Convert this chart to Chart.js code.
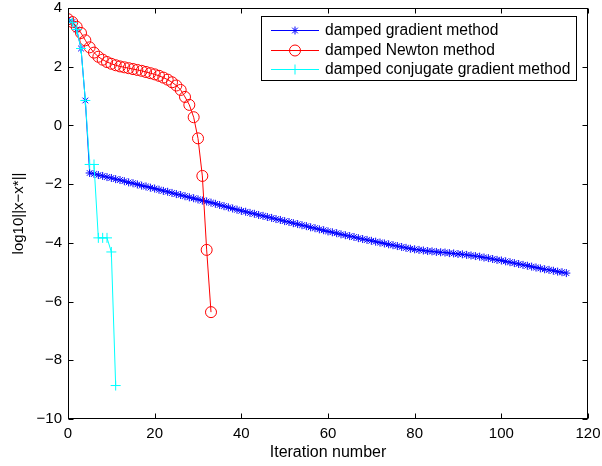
<!DOCTYPE html>
<html>
<head>
<meta charset="utf-8">
<script src="https://cdn.jsdelivr.net/npm/chart.js@4.4.0/dist/chart.umd.min.js"></script>
<style>
    html, body { margin: 0; padding: 0; background: #fff; }
    #wrap { width: 602px; height: 466px; }
</style>
</head>
<body>
<div id="wrap"><canvas id="chart" width="602" height="466"></canvas></div>
<script>
// Datos (log10 del error por iteración)
const gradientY = [
    3.60, 3.52, 3.27, 2.62, 0.85, -1.62, -1.65, -1.69, -1.72, -1.76,
    -1.79, -1.83, -1.86, -1.90, -1.94, -1.97, -2.01, -2.05, -2.08, -2.12,
    -2.15, -2.19, -2.23, -2.26, -2.30, -2.34, -2.37, -2.41, -2.45, -2.48,
    -2.52, -2.56, -2.59, -2.63, -2.67, -2.71, -2.75, -2.79, -2.83, -2.87,
    -2.91, -2.94, -2.98, -3.01, -3.05, -3.08, -3.12, -3.15, -3.19, -3.22,
    -3.26, -3.29, -3.33, -3.36, -3.40, -3.43, -3.47, -3.50, -3.54, -3.57,
    -3.61, -3.64, -3.67, -3.71, -3.74, -3.77, -3.80, -3.84, -3.87, -3.90,
    -3.93, -3.96, -3.99, -4.02, -4.05, -4.08, -4.11, -4.14, -4.17, -4.20,
    -4.22, -4.24, -4.26, -4.28, -4.29, -4.31, -4.32, -4.33, -4.35, -4.36,
    -4.38, -4.39, -4.41, -4.43, -4.45, -4.47, -4.50, -4.52, -4.55, -4.58,
    -4.60, -4.63, -4.66, -4.69, -4.72, -4.75, -4.78, -4.81, -4.84, -4.87,
    -4.90, -4.92, -4.95, -4.98, -5.00, -5.03
];
const newtonY = [
    3.62, 3.52, 3.36, 3.15, 2.90, 2.66, 2.48, 2.34, 2.24, 2.16,
    2.10, 2.05, 2.01, 1.98, 1.95, 1.92, 1.89, 1.86, 1.82, 1.78,
    1.74, 1.69, 1.63, 1.56, 1.47, 1.36, 1.21, 0.97, 0.70, 0.28,
    -0.44, -1.72, -4.24, -6.36
];
const conjugateY = [3.60, 3.50, 3.27, 2.62, 0.85, -1.33, -1.33, -3.83, -3.83, -3.83, -4.31, -8.86];

const seriesNames = ['damped gradient method', 'damped Newton method', 'damped conjugate gradient method'];
const xTicks = [0, 20, 40, 60, 80, 100, 120];
const yTicks = [-10, -8, -6, -4, -2, 0, 2, 4];

const FONT = 'Liberation Sans, Arial, Helvetica, sans-serif';

// Pasar de valores a puntos {x, y}
function toPoints(values) {
    return values.map((v, i) => ({ x: i, y: v }));
}

// Marco y marcas hacia dentro (estilo MATLAB)
const framePlugin = {
    id: 'frame',
    afterDatasetsDraw(chart) {
        const { ctx, chartArea: a, scales } = chart;
        const L = Math.round(a.left) + 0.5, R = Math.round(a.right) - 0.5;
        const T = Math.round(a.top) + 0.5, B = Math.round(a.bottom) - 0.5;
        ctx.save();
        ctx.strokeStyle = '#000';
        ctx.lineWidth = 1;
        ctx.beginPath();
        xTicks.forEach(v => {
            const px = Math.round(scales.x.getPixelForValue(v)) + 0.5;
            ctx.moveTo(px, B); ctx.lineTo(px, B - 5);
            ctx.moveTo(px, T); ctx.lineTo(px, T + 5);
        });
        yTicks.forEach(v => {
            const py = Math.round(scales.y.getPixelForValue(v)) + 0.5;
            ctx.moveTo(L, py); ctx.lineTo(L + 5, py);
            ctx.moveTo(R, py); ctx.lineTo(R - 5, py);
        });
        ctx.stroke();
        ctx.strokeRect(L, T, R - L, B - T);
        ctx.restore();
    }
};

// Leyenda con caja
const legendPlugin = {
    id: 'boxLegend',
    afterDraw(chart) {
        const ctx = chart.ctx;
        const box = { left: 261.5, top: 16.5, right: 576.5, bottom: 80.5 };
        ctx.save();
        ctx.fillStyle = '#fff';
        ctx.fillRect(box.left, box.top, box.right - box.left, box.bottom - box.top);
        ctx.strokeStyle = '#000';
        ctx.lineWidth = 1;
        ctx.strokeRect(box.left, box.top, box.right - box.left, box.bottom - box.top);
        const rows = [30, 50, 69];
        chart.data.datasets.forEach((ds, i) => {
            const y = rows[i] + 0.5;
            ctx.strokeStyle = ds.borderColor;
            ctx.lineWidth = 1;
            ctx.beginPath();
            ctx.moveTo(271, y);
            ctx.lineTo(319, y);
            ctx.stroke();
            ctx.fillStyle = 'rgba(0,0,0,0)';
            Chart.helpers.drawPoint(ctx, {
                pointStyle: ds.pointStyle,
                radius: ds.pointRadius,
                borderWidth: 1,
                rotation: 0
            }, 295, y);
            ctx.fillStyle = '#000';
            ctx.font = '15.6px ' + FONT;
            ctx.textBaseline = 'middle';
            ctx.textAlign = 'left';
            ctx.fillText(ds.label, 325, rows[i] + 1);
        });
        ctx.restore();
    }
};

const ctx = document.getElementById('chart').getContext('2d');
const chart = new Chart(ctx, {
    type: 'line',
    data: {
        datasets: [
            {
                label: seriesNames[0],
                data: toPoints(gradientY),
                borderColor: '#0000ff',
                backgroundColor: 'rgba(0,0,0,0)',
                borderWidth: 1,
                pointStyle: 'star',
                pointRadius: 4,
                pointBorderWidth: 1,
                order: 2
            },
            {
                label: seriesNames[1],
                data: toPoints(newtonY),
                borderColor: '#ff0000',
                backgroundColor: 'rgba(0,0,0,0)',
                borderWidth: 1,
                pointStyle: 'circle',
                pointRadius: 5.5,
                pointBorderWidth: 1,
                order: 1
            },
            {
                label: seriesNames[2],
                data: toPoints(conjugateY),
                borderColor: '#00ffff',
                backgroundColor: 'rgba(0,0,0,0)',
                borderWidth: 1,
                pointStyle: 'cross',
                pointRadius: 5,
                pointBorderWidth: 1,
                order: 0
            }
        ]
    },
    options: {
        responsive: false,
        animation: false,
        devicePixelRatio: 1,
        layout: { padding: { top: 8, right: 14, bottom: 0, left: 0 } },
        plugins: {
            legend: { display: false },
            tooltip: { enabled: false }
        },
        elements: { line: { tension: 0 } },
        scales: {
            x: {
                type: 'linear',
                min: 0,
                max: 120,
                afterBuildTicks: scale => { scale.ticks = xTicks.map(v => ({ value: v })); },
                afterFit: scale => {
                    scale.height = 47;
                    scale.paddingLeft = 0;
                    scale.paddingRight = 0;
                },
                grid: { drawOnChartArea: false, drawTicks: false },
                border: { display: false },
                ticks: {
                    color: '#000',
                    padding: 6,
                    maxRotation: 0,
                    font: { family: FONT, size: 15 }
                },
                title: {
                    display: true,
                    text: 'Iteration number',
                    color: '#000',
                    font: { family: FONT, size: 16 },
                    padding: { top: 0, bottom: 4 }
                }
            },
            y: {
                type: 'linear',
                min: -10,
                max: 4,
                afterBuildTicks: scale => { scale.ticks = yTicks.map(v => ({ value: v })); },
                afterFit: scale => {
                    scale.width = 68;
                    scale.paddingTop = 0;
                    scale.paddingBottom = 0;
                },
                grid: { drawOnChartArea: false, drawTicks: false },
                border: { display: false },
                ticks: {
                    color: '#000',
                    padding: 6,
                    font: { family: FONT, size: 15 },
                    callback: v => String(v).replace('-', '\u2212')
                },
                title: {
                    display: true,
                    text: 'log10||x\u2212x*||',
                    color: '#000',
                    font: { family: FONT, size: 15 },
                    padding: { top: 10, bottom: 0 }
                }
            }
        }
    },
    plugins: [framePlugin, legendPlugin]
});
</script>
</body>
</html>
